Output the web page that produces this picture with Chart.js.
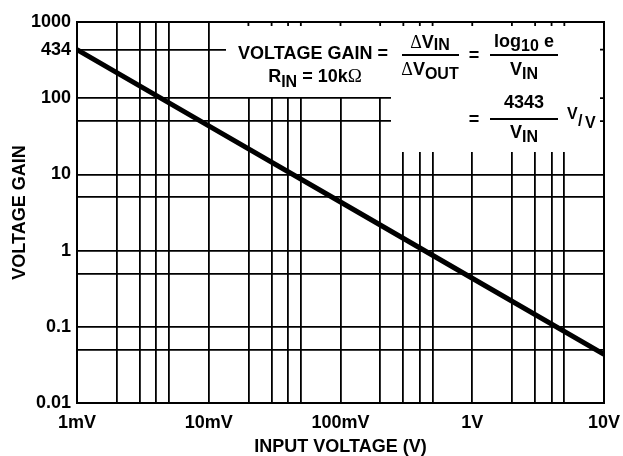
<!DOCTYPE html>
<html>
<head>
<meta charset="utf-8">
<script src="https://cdn.jsdelivr.net/npm/chart.js@4.4.1/dist/chart.umd.min.js"></script>
<style>
  html, body { margin: 0; padding: 0; background: #fff; }
  #wrap { width: 623px; height: 456px; }
</style>
</head>
<body>
<div id="wrap"><canvas id="gainChart"></canvas></div>
<script>
// Data
const inputVoltage = [0.001, 0.01, 0.1, 1, 10];          // volts
const voltageGain = [434, 43.4, 4.34, 0.434, 0.0434];   // V/V

// Axis ticks
const xGridTicks = [
  0.001, 0.002, 0.003, 0.004, 0.005,
  0.01, 0.02, 0.03, 0.04, 0.05,
  0.1, 0.2, 0.3, 0.4, 0.5,
  1, 2, 3, 4, 5,
  10
];
const xLabelValues = [0.001, 0.01, 0.1, 1, 10];
const xLabelTexts = ['1mV', '10mV', '100mV', '1V', '10V'];

const yGridTicks = [0.01, 0.05, 0.1, 0.5, 1, 5, 10, 50, 100, 434, 1000];
const yLabelValues = [0.01, 0.1, 1, 10, 100, 434, 1000];
const yLabelTexts = ['0.01', '0.1', '1', '10', '100', '434', '1000'];

const FONT = '"Liberation Sans", Arial, Helvetica, sans-serif';
const SYM = '"Liberation Serif", "DejaVu Serif", serif';

function labelFor(v, values, texts) {
  for (let i = 0; i < values.length; i++) {
    if (Math.abs(Math.log10(v) - Math.log10(values[i])) < 1e-6) return texts[i];
  }
  return '';
}

// draw a run of text pieces, each {t, size, dy, sym}
function richWidth(ctx, parts) {
  let w = 0;
  parts.forEach(p => {
    ctx.font = (p.sym ? '' : 'bold ') + p.size + 'px ' + (p.sym ? SYM : FONT);
    w += ctx.measureText(p.t).width;
  });
  return w;
}
function drawRich(ctx, parts, cx, baseline) {
  let x = cx - richWidth(ctx, parts) / 2;
  parts.forEach(p => {
    ctx.font = (p.sym ? '' : 'bold ') + p.size + 'px ' + (p.sym ? SYM : FONT);
    ctx.fillText(p.t, x, baseline + (p.dy || 0));
    x += ctx.measureText(p.t).width;
  });
}

const frameAndNote = {
  id: 'frameAndNote',
  beforeDatasetsDraw(chart) {
    const { ctx, chartArea: ca, scales } = chart;
    const maskA = { x: ca.left + 149, y: ca.top, w: ca.right - ca.left - 149, h: 75 };
    const maskB = { x: ca.left + 314, y: ca.top, w: ca.right - ca.left - 314, h: 130 };
    ctx.save();
    ctx.fillStyle = '#fff';
    ctx.fillRect(maskA.x, maskA.y, maskA.w, maskA.h);
    ctx.fillRect(maskB.x, maskB.y, maskB.w, maskB.h);

    // short ticks on the top and right edges inside the note
    ctx.strokeStyle = '#000';
    ctx.lineWidth = 1.8;
    ctx.beginPath();
    xGridTicks.forEach(v => {
      const px = scales.x.getPixelForValue(v);
      if (px > maskA.x && px < ca.right - 2) {
        ctx.moveTo(px, ca.top);
        ctx.lineTo(px, ca.top + 4);
      }
    });
    yGridTicks.forEach(v => {
      const py = scales.y.getPixelForValue(v);
      if (py > ca.top + 2 && py < maskB.y + maskB.h) {
        ctx.moveTo(ca.right, py);
        ctx.lineTo(ca.right - 4, py);
      }
    });
    ctx.stroke();

    // frame
    ctx.lineWidth = 2;
    ctx.strokeRect(ca.left, ca.top, ca.right - ca.left, ca.bottom - ca.top);
    ctx.restore();
  },
  afterDraw(chart) {
    const { ctx } = chart;
    ctx.save();
    ctx.fillStyle = '#000';
    ctx.strokeStyle = '#000';
    ctx.textAlign = 'left';
    ctx.textBaseline = 'alphabetic';
    const S = 18, s = 16;

    drawRich(ctx, [{ t: 'VOLTAGE GAIN =', size: S }], 313, 59);
    drawRich(ctx, [
      { t: 'R', size: S }, { t: 'IN', size: s, dy: 5 },
      { t: ' = 10k', size: S }, { t: 'Ω', size: S + 1, sym: true }
    ], 315, 82);

    // delta V_IN / delta V_OUT
    drawRich(ctx, [{ t: 'Δ', size: S, sym: true }, { t: 'V', size: S }, { t: 'IN', size: s, dy: 2 }], 430, 48);
    drawRich(ctx, [{ t: 'Δ', size: S, sym: true }, { t: 'V', size: S }, { t: 'OUT', size: s, dy: 4 }], 430, 75);
    drawRich(ctx, [{ t: '=', size: S }], 474, 61);

    // log10 e / V_IN
    drawRich(ctx, [{ t: 'log', size: S }, { t: '10', size: s, dy: 4 }, { t: ' e', size: S }], 524, 47);
    drawRich(ctx, [{ t: 'V', size: S }, { t: 'IN', size: s, dy: 4 }], 524, 75);

    // 4343 / V_IN
    drawRich(ctx, [{ t: '=', size: S }], 474, 125);
    drawRich(ctx, [{ t: '4343', size: S }], 524, 108);
    drawRich(ctx, [{ t: 'V', size: S }, { t: 'IN', size: s, dy: 4 }], 524, 138);

    // V/V unit
    ctx.font = 'bold 16px ' + FONT;
    ctx.fillText('V', 567, 119);
    ctx.fillText('/', 578, 126);
    ctx.fillText('V', 585, 128);

    // fraction bars
    ctx.lineWidth = 1.8;
    ctx.beginPath();
    ctx.moveTo(402, 55); ctx.lineTo(459, 55);
    ctx.moveTo(490, 55); ctx.lineTo(558, 55);
    ctx.moveTo(490, 119); ctx.lineTo(558, 119);
    ctx.stroke();
    ctx.restore();
  }
};

const ctx = document.getElementById('gainChart').getContext('2d');

new Chart(ctx, {
  type: 'scatter',
  data: {
    datasets: [{
      data: inputVoltage.map((v, i) => ({ x: v, y: voltageGain[i] })),
      showLine: true,
      borderColor: '#000',
      borderWidth: 5,
      pointRadius: 0,
      tension: 0
    }]
  },
  options: {
    responsive: true,
    maintainAspectRatio: false,
    animation: false,
    events: [],
    layout: { padding: { left: 0, right: 19, top: 22, bottom: 0 } },
    plugins: {
      legend: { display: false },
      tooltip: { enabled: false }
    },
    scales: {
      x: {
        type: 'logarithmic',
        min: 0.001,
        max: 10,
        afterBuildTicks: scale => {
          scale.ticks = xGridTicks.map(v => ({ value: v }));
        },
        afterFit: scale => {
          scale.height = 53;
          scale.paddingLeft = 0;
          scale.paddingRight = 0;
        },
        grid: { color: '#000', lineWidth: 1.8, drawTicks: false },
        border: { display: false },
        ticks: {
          autoSkip: false,
          maxRotation: 0,
          padding: 9,
          color: '#000',
          font: { family: FONT, size: 18, weight: 'bold' },
          callback: v => labelFor(v, xLabelValues, xLabelTexts)
        },
        title: {
          display: true,
          text: 'INPUT VOLTAGE (V)',
          color: '#000',
          font: { family: FONT, size: 18, weight: 'bold', lineHeight: 1 },
          padding: { top: 0, bottom: 0 }
        }
      },
      y: {
        type: 'logarithmic',
        min: 0.01,
        max: 1000,
        afterBuildTicks: scale => {
          scale.ticks = yGridTicks.map(v => ({ value: v }));
        },
        afterFit: scale => {
          scale.width = 77;
          scale.paddingTop = 0;
          scale.paddingBottom = 0;
        },
        grid: { color: '#000', lineWidth: 1.8, drawTicks: false },
        border: { display: false },
        ticks: {
          autoSkip: false,
          padding: 6,
          color: '#000',
          font: { family: FONT, size: 18, weight: 'bold' },
          callback: v => labelFor(v, yLabelValues, yLabelTexts)
        },
        title: {
          display: true,
          text: 'VOLTAGE GAIN',
          color: '#000',
          font: { family: FONT, size: 18, weight: 'bold', lineHeight: 1.2 },
          padding: { top: 9, bottom: 0 }
        }
      }
    }
  },
  plugins: [frameAndNote]
});
</script>
</body>
</html>
